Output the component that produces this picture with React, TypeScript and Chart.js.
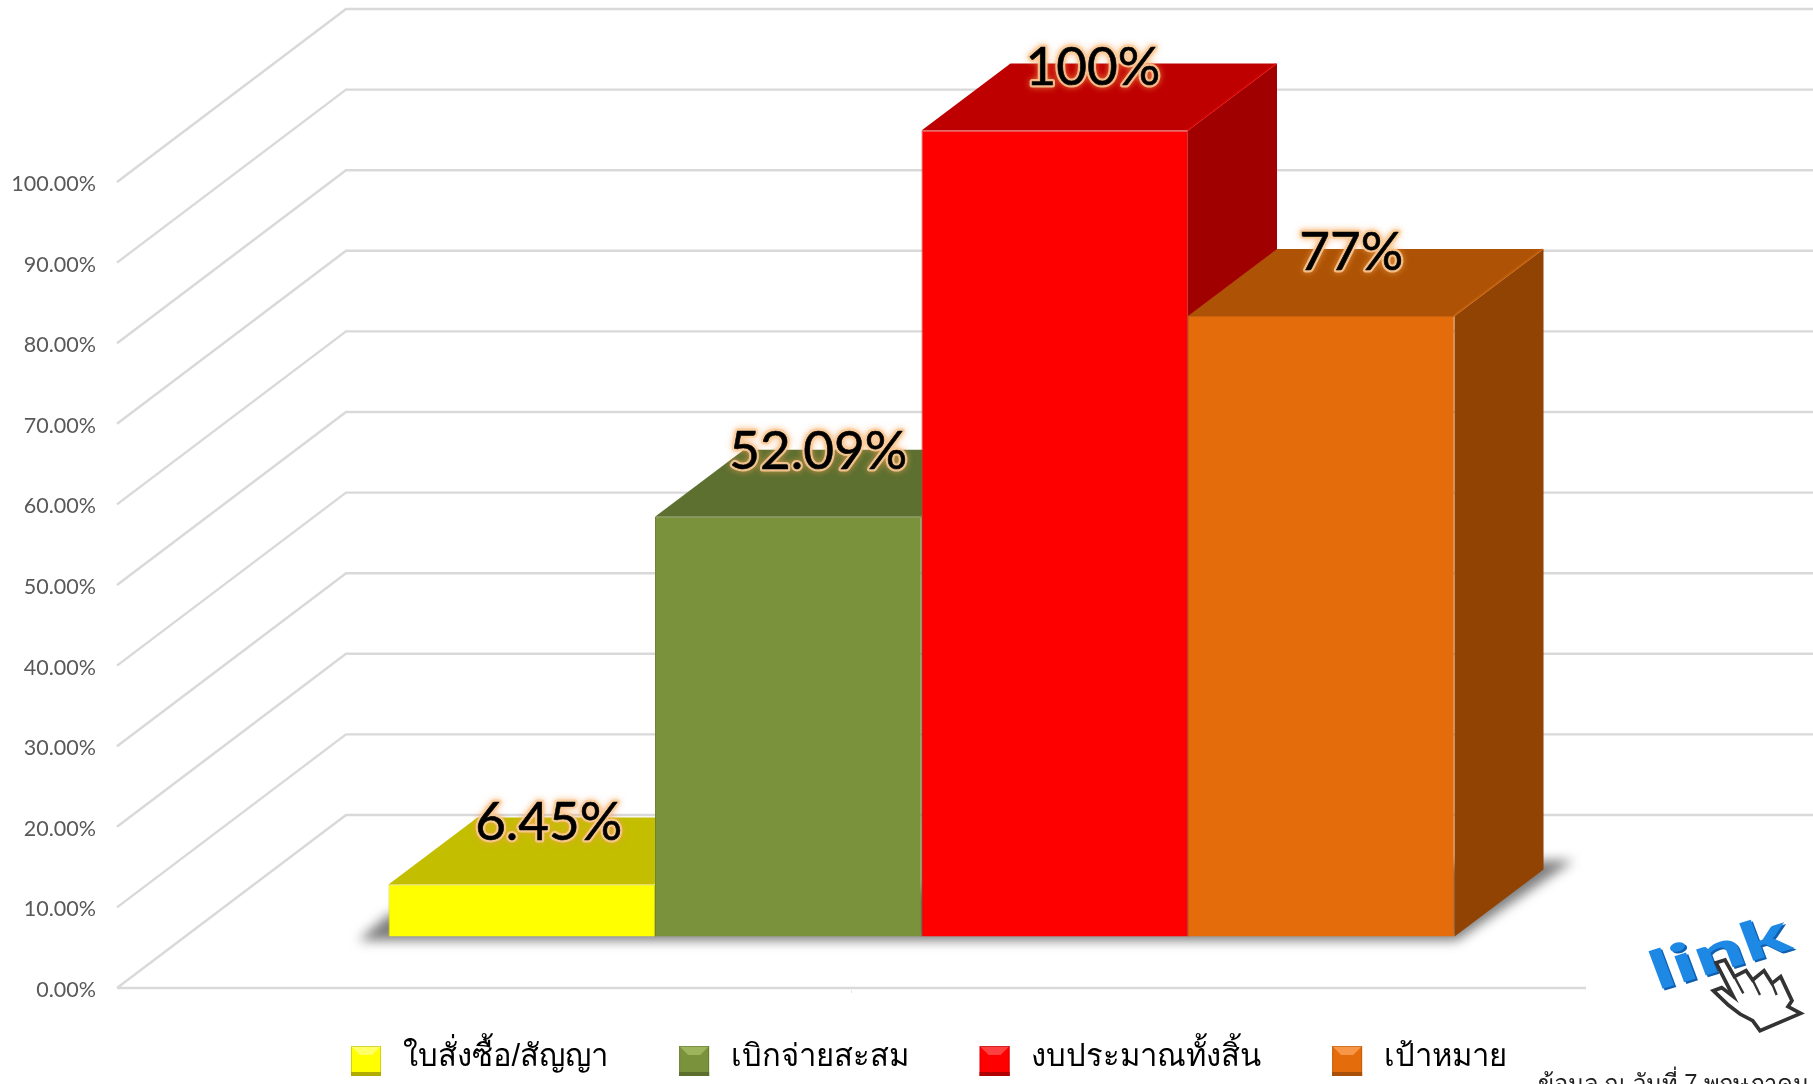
import React, { useEffect, useRef } from "react";
import { Chart, registerables } from "chart.js";

Chart.register(...registerables);

const categories = [""];
const seriesNames = ["ใบสั่งซื้อ/สัญญา", "เบิกจ่ายสะสม", "งบประมาณทั้งสิ้น", "เป้าหมาย"];
const seriesValues = [6.45, 52.09, 100, 77];
const dataLabels = ["6.45%", "52.09%", "100%", "77%"];
const footnote = "ข้อมูล ณ วันที่ 7 พฤษภาคม";
const linkWord = "link";

const frontColors = ["#FFFF00", "#7A923B", "#FF0000", "#E46C0A"];
const edgeColors = ["#D6D200", "#6C8434", "#C93A3A", "#C9620F"];
const topColors = ["#C3BE00", "#5D7030", "#BF0000", "#AE5305"];
const sideColors = ["#8F8C00", "#4A5A26", "#A00000", "#914304"];
const swatchLight = ["#FFFF66", "#9DB45C", "#FF4040", "#F79646"];
const swatchDark = ["#B0AC00", "#5B6E2C", "#B00000", "#A85008"];

// oblique projection (pixels)
const WALL = { dx: 229, dy: 173 };
const BAR_OFFSET = { dx: 70, dy: 51.5 };
const BAR_DEPTH = { dx: 89, dy: 67 };
const LABEL_OFFSET = [
  { x: 27, y: -62 },
  { x: 30, y: -65 },
  { x: 38, y: -63 },
  { x: 30, y: -63 },
];
const LINE = "#D9D9D9";
const LEGEND_LEFT = 280;
const LEGEND_TOP = 971;
const SWATCH = 30;
const SWATCH_DROP = 4;

const handPath: [number, number][] = [
  [948, 428], [975, 420], [1003, 470], [1038, 452], [1058, 480], [1092, 452], [1116, 490], [1142, 470],
  [1176, 542], [1164, 560], [1202, 580], [1080, 632], [1058, 602], [1020, 582], [985, 555], [940, 512],
  [965, 503], [1000, 530],
];

const projection3D = {
  id: "projection3D",
  beforeDraw(chart: any) {
    // legend starts at the swatch position of the picture
    const legend = chart.legend;
    chart.$legendShift = { x: LEGEND_LEFT - legend.left, y: LEGEND_TOP - legend.top };
    legend.left = LEGEND_LEFT;
    legend.top = LEGEND_TOP;
    const { ctx } = chart;
    ctx.save();
    ctx.fillStyle = "#FFFFFF";
    ctx.fillRect(0, 0, chart.width, chart.height);
    ctx.restore();
  },
  beforeDatasetsDraw(chart: any) {
    const { ctx, scales, chartArea } = chart;
    const y = scales.y;
    ctx.save();
    ctx.strokeStyle = LINE;
    ctx.lineWidth = 2.4;
    y.ticks.forEach((t: any) => {
      const py = y.getPixelForValue(t.value);
      ctx.beginPath();
      ctx.moveTo(chartArea.left, py);
      ctx.lineTo(chartArea.left + WALL.dx, py - WALL.dy);
      ctx.lineTo(chart.width + 5, py - WALL.dy);
      ctx.stroke();
    });
    const y0 = y.getPixelForValue(0);
    ctx.beginPath();
    ctx.moveTo(chartArea.left, y0);
    ctx.lineTo(chartArea.right, y0);
    ctx.stroke();
    const cx = scales.x.getPixelForTick(0);
    ctx.lineWidth = 1;
    ctx.strokeStyle = "#E4E4E4";
    ctx.beginPath();
    ctx.moveTo(cx, y0 + 2);
    ctx.lineTo(cx, y0 + 5);
    ctx.stroke();
    ctx.restore();

    ctx.save();
    ctx.translate(BAR_OFFSET.dx, -BAR_OFFSET.dy);

    const bars = chart.data.datasets.map((_: any, i: number) => chart.getDatasetMeta(i).data[0]);
    const first = bars[0];
    const last = bars[bars.length - 1];
    const baseY = y.getPixelForValue(0);
    const leftX = first.x - first.width / 2;
    const rightX = last.x + last.width / 2;

    // floor shadow
    ctx.save();
    ctx.filter = "blur(6px)";
    ctx.fillStyle = "rgba(70,70,70,0.7)";
    ctx.beginPath();
    ctx.moveTo(leftX - 30, baseY + 4);
    ctx.lineTo(rightX + 2, baseY + 4);
    ctx.lineTo(rightX + BAR_DEPTH.dx + 30, baseY - BAR_DEPTH.dy - 9);
    ctx.lineTo(rightX + BAR_DEPTH.dx, baseY - BAR_DEPTH.dy - 9);
    ctx.lineTo(leftX, baseY - 22);
    ctx.closePath();
    ctx.fill();
    ctx.restore();

    // side and top faces, left to right
    bars.forEach((bar: any, i: number) => {
      const l = bar.x - bar.width / 2;
      const r = bar.x + bar.width / 2;
      const t = bar.y;
      const { dx, dy } = BAR_DEPTH;
      ctx.fillStyle = sideColors[i];
      ctx.beginPath();
      ctx.moveTo(r, t);
      ctx.lineTo(r + dx, t - dy);
      ctx.lineTo(r + dx, baseY - dy);
      ctx.lineTo(r, baseY);
      ctx.closePath();
      ctx.fill();
      ctx.fillStyle = topColors[i];
      ctx.beginPath();
      ctx.moveTo(l, t);
      ctx.lineTo(l + dx, t - dy);
      ctx.lineTo(r + dx, t - dy);
      ctx.lineTo(r, t);
      ctx.closePath();
      ctx.fill();
      ctx.strokeStyle = frontColors[i];
      ctx.globalAlpha = 0.35;
      ctx.lineWidth = 2;
      ctx.beginPath();
      ctx.moveTo(r - 1, t);
      ctx.lineTo(r + dx - 1, t - dy);
      ctx.stroke();
      ctx.globalAlpha = 1;
    });
  },
  afterDatasetsDraw(chart: any) {
    chart.ctx.restore();
  },
  afterDraw(chart: any) {
    const { ctx } = chart;

    // legend swatches with their bevel, at the legend's own item positions
    chart.legend.legendHitBoxes.forEach((hit: any, i: number) => {
      const w = SWATCH;
      const h = SWATCH;
      const x = hit.left + chart.$legendShift.x;
      const y = hit.top + chart.$legendShift.y + SWATCH_DROP;
      ctx.save();
      ctx.fillStyle = frontColors[i];
      ctx.fillRect(x, y, w, h);
      ctx.fillStyle = swatchLight[i];
      ctx.beginPath();
      ctx.moveTo(x, y);
      ctx.lineTo(x + w, y);
      ctx.lineTo(x + w - 9, y + 9);
      ctx.lineTo(x + 9, y + 9);
      ctx.closePath();
      ctx.fill();
      ctx.fillStyle = swatchDark[i];
      ctx.fillRect(x, y + h - 4, w, 4);
      ctx.globalAlpha = 0.5;
      ctx.strokeStyle = swatchDark[i];
      ctx.lineWidth = 1;
      ctx.strokeRect(x + 0.5, y + 0.5, w - 1, h - 1);
      ctx.restore();
    });

    // data labels with a soft orange glow
    chart.data.datasets.forEach((_: any, i: number) => {
      const bar = chart.getDatasetMeta(i).data[0];
      const x = bar.x + BAR_OFFSET.dx + LABEL_OFFSET[i].x;
      const y = bar.y - BAR_OFFSET.dy + LABEL_OFFSET[i].y;
      ctx.save();
      ctx.font = "53px Lato, 'Open Sans', sans-serif";
      ctx.textAlign = "center";
      ctx.textBaseline = "middle";
      ctx.lineJoin = "round";
      ctx.shadowColor = "rgba(245,160,80,0.85)";
      ctx.shadowBlur = 6;
      ctx.strokeStyle = "rgba(250,205,155,0.85)";
      ctx.lineWidth = 5;
      ctx.strokeText(dataLabels[i], x, y);
      ctx.shadowBlur = 0;
      ctx.strokeStyle = "#000";
      ctx.lineWidth = 0.6;
      ctx.strokeText(dataLabels[i], x, y);
      ctx.fillStyle = "#000";
      ctx.fillText(dataLabels[i], x, y);
      ctx.restore();
    });

    // link picture
    ctx.save();
    ctx.translate(1720, 953);
    ctx.transform(1.2, -0.37, 0.27, 0.72, 0, 0);
    ctx.font = "900 70px Lato, sans-serif";
    ctx.textAlign = "center";
    ctx.textBaseline = "middle";
    ctx.fillStyle = "#0F5FAE";
    ctx.fillText(linkWord, 1, 3);
    ctx.fillStyle = "#1E88E5";
    ctx.fillText(linkWord, 0, 0);
    ctx.restore();

    ctx.save();
    ctx.translate(1400, 820);
    ctx.scale(1 / 3, 1 / 3);
    ctx.beginPath();
    handPath.forEach(([hx, hy], i) => (i ? ctx.lineTo(hx, hy) : ctx.moveTo(hx, hy)));
    ctx.closePath();
    ctx.fillStyle = "#FFFFFF";
    ctx.fill();
    ctx.strokeStyle = "#333333";
    ctx.lineWidth = 11;
    ctx.lineJoin = "miter";
    ctx.stroke();
    ctx.lineWidth = 7;
    [[1003, 470, 1030, 520], [1058, 480, 1080, 525], [1116, 490, 1130, 525]].forEach(([a, b, c, d]) => {
      ctx.beginPath();
      ctx.moveTo(a, b);
      ctx.lineTo(c, d);
      ctx.stroke();
    });
    ctx.restore();

    // footnote, cut by the lower edge as in the picture
    ctx.save();
    ctx.font = "25px 'Liberation Sans', sans-serif";
    ctx.fillStyle = "#222222";
    ctx.textAlign = "left";
    ctx.textBaseline = "alphabetic";
    ctx.translate(1538, 1092);
    ctx.scale(0.95, 1);
    ctx.fillText(footnote, 0, 0);
    ctx.restore();
  },
};

export default function App() {
  const ref = useRef<HTMLCanvasElement | null>(null);

  useEffect(() => {
    const chart = new Chart(ref.current as HTMLCanvasElement, {
      type: "bar",
      data: {
        labels: categories,
        datasets: seriesNames.map((name, i) => ({
          label: name,
          data: [seriesValues[i]],
          backgroundColor: frontColors[i],
          borderColor: edgeColors[i],
          borderWidth: 1,
          borderSkipped: "bottom",
          clip: false,
          barPercentage: 1,
          categoryPercentage: 0.7257,
        })),
      },
      options: {
        responsive: false,
        animation: false,
        layout: { padding: { top: 182, left: 0, right: 227, bottom: 0 } },
        plugins: {
          tooltip: { enabled: false },
          legend: {
            display: true,
            position: "bottom",
            align: "start",
            maxHeight: 96,
            labels: {
              boxWidth: 36,
              boxHeight: 30,
              padding: 71,
              color: "#000000",
              font: { size: 31, family: "'Liberation Sans', 'Noto Sans', sans-serif" },
              generateLabels: (c: any) =>
                c.data.datasets.map((d: any, i: number) => ({
                  text: d.label,
                  fillStyle: "rgba(0,0,0,0)",
                  strokeStyle: "rgba(0,0,0,0)",
                  lineWidth: 0,
                  fontColor: "#000000",
                  datasetIndex: i,
                })),
            },
          },
        },
        scales: {
          x: { display: false, grid: { display: false } },
          y: {
            min: 0,
            max: 100,
            grid: { display: false },
            border: { display: false },
            afterFit(axis: any) {
              axis.width = 117;
            },
            ticks: {
              stepSize: 10,
              padding: 13,
              labelOffset: 2,
              color: "#595959",
              font: { size: 21.5, family: "Lato, 'Open Sans', sans-serif" },
              callback: (v: any) => Number(v).toFixed(2) + "%",
            },
          },
        },
      },
      plugins: [projection3D],
    } as any);
    return () => chart.destroy();
  }, []);

  return (
    <div style={{ position: "fixed", left: 0, top: 0, width: 1813, height: 1084, overflow: "hidden" }}>
      <canvas ref={ref} width={1813} height={1084} style={{ display: "block" }} />
    </div>
  );
}
